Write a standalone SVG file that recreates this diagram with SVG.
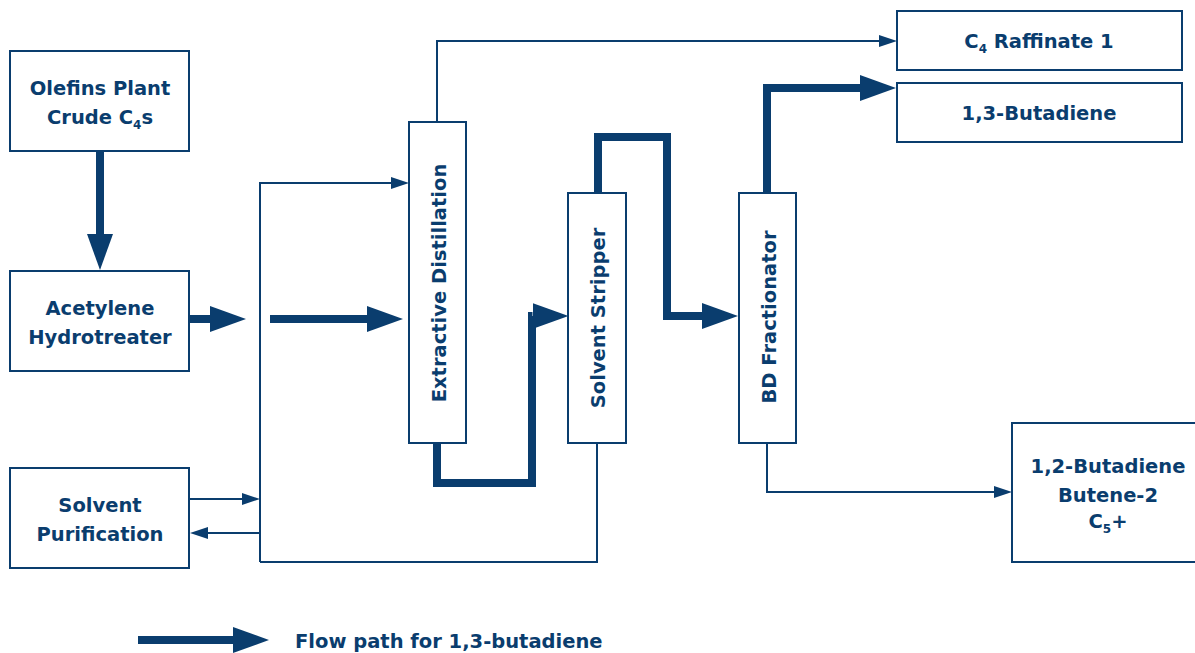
<svg xmlns="http://www.w3.org/2000/svg" width="1195" height="653" viewBox="0 0 1195 653">
<style>
.box{fill:#fff;stroke:#0a3d6e;stroke-width:2}
.t{font-family:"DejaVu Sans","Liberation Sans",sans-serif;font-weight:bold;font-size:19.5px;fill:#0a3d6e;text-anchor:middle}
.sub{font-size:12px}
.thin{fill:none;stroke:#0a3d6e;stroke-width:2}
.thick{fill:none;stroke:#0a3d6e;stroke-width:8;stroke-linejoin:miter}
</style>
<defs>
<marker id="ah" markerUnits="userSpaceOnUse" markerWidth="18" markerHeight="12" refX="0" refY="6" orient="auto"><path d="M0,0 L18,6 L0,12 z" fill="#0a3d6e"/></marker>
<marker id="AH" markerUnits="userSpaceOnUse" markerWidth="36" markerHeight="26" refX="0" refY="13" orient="auto"><path d="M0,0 L36,13 L0,26 z" fill="#0a3d6e"/></marker>
</defs>
<rect width="1195" height="653" fill="#fff"/>
<g id="connectors">
<path class="thick" d="M100,151 V234" marker-end="url(#AH)"/>
<path class="thick" d="M189,319 H210" marker-end="url(#AH)"/>
<path class="thick" d="M270,319 H367" marker-end="url(#AH)"/>
<path class="thick" d="M437,443 V483 H532 V316 H532.5" marker-end="url(#AH)"/>
<path class="thick" d="M598,193 V137 H667 V316 H702" marker-end="url(#AH)"/>
<path class="thick" d="M767,193 V88 H860" marker-end="url(#AH)"/>
<path class="thin" d="M437,122 V41 H879" marker-end="url(#ah)"/>
<path class="thin" d="M260,562 V183 H391" marker-end="url(#ah)"/>
<path class="thin" d="M597,443 V562 H260"/>
<path class="thin" d="M189,499 H242" marker-end="url(#ah)"/>
<path class="thin" d="M260,533 H208" marker-end="url(#ah)"/>
<path class="thin" d="M767,443 V492 H994" marker-end="url(#ah)"/>
</g>
<g id="olefins"><rect class="box" x="10" y="51" width="179" height="100"/>
<text class="t" x="100" y="95">Olefins Plant</text>
<text class="t" x="100" y="124">Crude C<tspan class="sub" dy="5">4</tspan><tspan dy="-5">s</tspan></text></g>
<g id="acetylene"><rect class="box" x="10" y="271" width="179" height="100"/>
<text class="t" x="100" y="315">Acetylene</text>
<text class="t" x="100" y="344">Hydrotreater</text></g>
<g id="solvent-purification"><rect class="box" x="10" y="468" width="179" height="100"/>
<text class="t" x="100" y="512">Solvent</text>
<text class="t" x="100" y="541">Purification</text></g>
<g id="extractive"><rect class="box" x="409" y="122" width="57" height="321"/>
<text class="t" transform="translate(446,283) rotate(-90)">Extractive Distillation</text></g>
<g id="stripper"><rect class="box" x="568" y="193" width="58" height="250"/>
<text class="t" transform="translate(605,318) rotate(-90)">Solvent Stripper</text></g>
<g id="bd"><rect class="box" x="739" y="193" width="57" height="250"/>
<text class="t" transform="translate(776,317) rotate(-90)">BD Fractionator</text></g>
<g id="raffinate"><rect class="box" x="897" y="11" width="285" height="59"/>
<text class="t" x="1039" y="48">C<tspan class="sub" dy="5">4</tspan><tspan dy="-5"> Raffinate 1</tspan></text></g>
<g id="butadiene13"><rect class="box" x="897" y="83" width="285" height="59"/>
<text class="t" x="1039" y="120">1,3-Butadiene</text></g>
<g id="heavies"><rect class="box" x="1012" y="423" width="190" height="139"/>
<text class="t" x="1108" y="473">1,2-Butadiene</text>
<text class="t" x="1108" y="502">Butene-2</text>
<text class="t" x="1108" y="528">C<tspan class="sub" dy="5">5</tspan><tspan dy="-5">+</tspan></text></g>
<g id="legend">
<path class="thick" d="M138,640 H233" marker-end="url(#AH)"/>
<text class="t" x="295" y="648" style="text-anchor:start">Flow path for 1,3-butadiene</text>
</g>
</svg>
